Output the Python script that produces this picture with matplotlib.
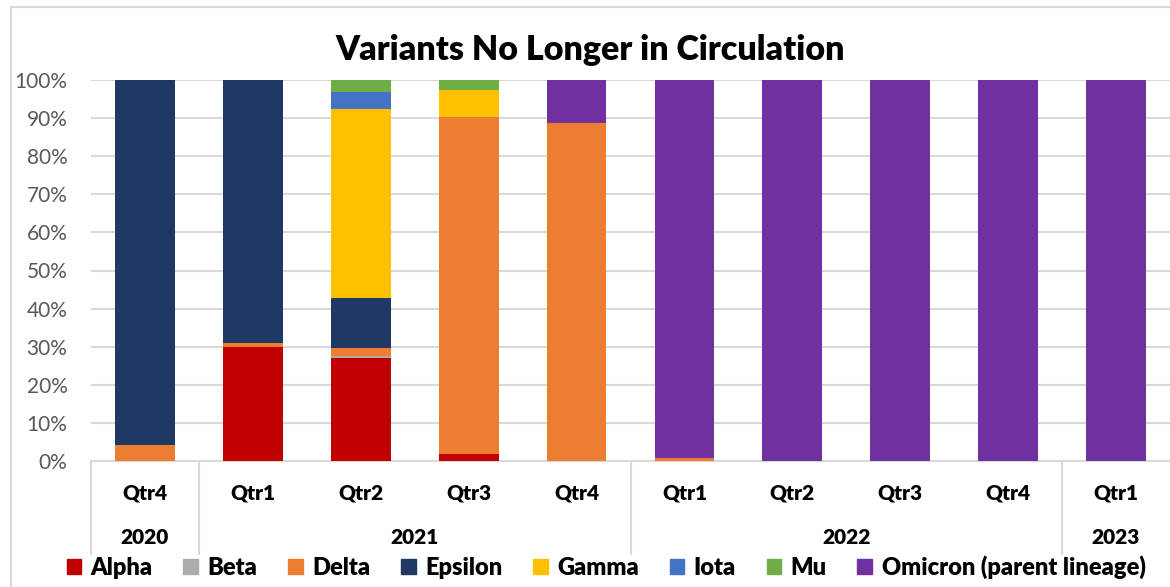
import matplotlib.pyplot as plt
import matplotlib.transforms as mtransforms
from matplotlib.patches import Patch
from matplotlib.lines import Line2D
import numpy as np

plt.rcParams['font.family'] = ['Lato', 'DejaVu Sans']

quarters = ['Qtr4', 'Qtr1', 'Qtr2', 'Qtr3', 'Qtr4', 'Qtr1', 'Qtr2', 'Qtr3', 'Qtr4', 'Qtr1']
years = ['2020', '2021', '2022', '2023']
year_counts = [1, 4, 4, 1]

variants = ['Alpha', 'Beta', 'Delta', 'Epsilon', 'Gamma', 'Iota', 'Mu', 'Omicron (parent lineage)']
colors = ['#C00000', '#AFABAB', '#ED7D31', '#203864', '#FFC000', '#4472C4', '#70AD47', '#7030A0']

# share of sequences (%) per quarter
alpha   = [0,    30.0, 27.1, 1.8,  0,    0,    0,   0,   0,   0]
beta    = [0,    0,    0.5,  0,    0,    0,    0,   0,   0,   0]
delta   = [4.2,  1.0,  2.1,  88.4, 88.6, 0.9,  0,   0,   0,   0]
epsilon = [95.8, 69.0, 13.2, 0,    0,    0,    0,   0,   0,   0]
gamma   = [0,    0,    49.6, 7.3,  0,    0,    0,   0,   0,   0]
iota    = [0,    0,    4.3,  0,    0,    0,    0,   0,   0,   0]
mu      = [0,    0,    3.2,  2.5,  0,    0,    0,   0,   0,   0]
omicron = [0,    0,    0,    0,    11.4, 99.1, 100, 100, 100, 100]

series = [alpha, beta, delta, epsilon, gamma, iota, mu, omicron]

fig = plt.figure(figsize=(11.7, 5.87), dpi=100)
ax = fig.add_axes([91/1170, 1 - 461/587, 1079/1170, 381/587])

x = np.arange(len(quarters))
bottom = np.zeros(len(quarters))
for name, vals, c in zip(variants, series, colors):
    vals = np.array(vals)
    ax.bar(x, vals, 0.555, bottom=bottom, color=c, label=name, zorder=3)
    bottom += vals

ax.set_xlim(-0.5, len(quarters) - 0.5)
ax.set_ylim(0, 100)
ax.set_yticks(np.arange(0, 101, 10))
ax.set_yticklabels([f'{v}%' for v in range(0, 101, 10)], color='#595959', fontsize=15)
ax.tick_params(axis='y', length=0, pad=17)
ax.tick_params(axis='x', length=0)
ax.set_xticks([])
ax.grid(axis='y', color='#d9d9d9', linewidth=1.5, zorder=0)
for s in ['top', 'right', 'left']:
    ax.spines[s].set_visible(False)
ax.spines['bottom'].set_color('#d9d9d9')
ax.spines['bottom'].set_linewidth(1.5)

# two-level category axis
trans = mtransforms.blended_transform_factory(ax.transData, ax.transAxes)
for i, q in enumerate(quarters):
    ax.text(i, -0.085, q, transform=trans, ha='center', va='center',
            fontsize=15, fontweight='heavy')
edges = np.concatenate([[0], np.cumsum(year_counts)]) - 0.5
for i, yr in enumerate(years):
    ax.text((edges[i] + edges[i + 1]) / 2, -0.2, yr, transform=trans,
            ha='center', va='center', fontsize=15, fontweight='heavy')
for e in edges[:-1]:
    ax.add_line(Line2D([e, e], [0, -0.243], transform=trans, color='#d9d9d9',
                       linewidth=1.5, clip_on=False))

fig.text(590/1170, 1 - 50/587, 'Variants No Longer in Circulation', ha='center', va='center',
         fontsize=24.5, fontweight='heavy')

handles = [Patch(color=c) for c in colors]
leg = fig.legend(handles, variants, loc='center', bbox_to_anchor=(606/1170, 1 - 567/587),
                 ncol=8, frameon=False, prop={'size': 17, 'weight': 'heavy'},
                 handlelength=0.62, handleheight=0.62, handletextpad=0.4, columnspacing=1.3,
                 borderpad=0)

# chart area border
fig.add_artist(Line2D([11/1170, 11/1170], [0, 1 - 7/587], color='#d9d9d9', linewidth=1.5))
fig.add_artist(Line2D([11/1170, 1], [1 - 7/587, 1 - 7/587], color='#d9d9d9', linewidth=1.5))

fig.savefig('out.png', dpi=100)
